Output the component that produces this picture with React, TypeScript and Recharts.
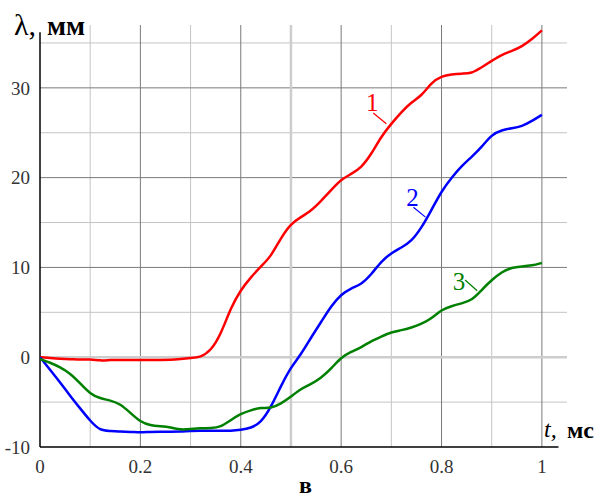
import React from 'react';
import { LineChart, Line, XAxis, YAxis, CartesianGrid, ReferenceLine, ReferenceDot } from 'recharts';

const times = [
  0, 0.02, 0.04, 0.06, 0.08, 0.1, 0.12, 0.14, 0.16, 0.18, 0.2, 0.22, 0.24, 0.26, 0.28, 0.3,
  0.32, 0.34, 0.36, 0.38, 0.4, 0.42, 0.44, 0.46, 0.48, 0.5, 0.52, 0.54, 0.56, 0.58, 0.6,
  0.62, 0.64, 0.66, 0.68, 0.7, 0.72, 0.74, 0.76, 0.78, 0.8, 0.82, 0.84, 0.86, 0.88, 0.9,
  0.92, 0.94, 0.96, 0.98, 1.0,
];

const curve1 = [
  0, -0.1, -0.2, -0.2, -0.3, -0.2, -0.4, -0.3, -0.3, -0.3, -0.3, -0.3, -0.3, -0.3, -0.2, -0.1,
  0.0, 0.7, 2.5, 5.5, 7.5, 8.9, 10.1, 11.2, 13.3, 14.9, 15.6, 16.3, 17.4, 18.6, 19.8,
  20.4, 21.1, 22.6, 24.6, 26.0, 27.3, 28.4, 29.1, 30.6, 31.3, 31.5, 31.6, 31.6, 32.3, 33.0,
  33.7, 34.1, 34.6, 35.4, 36.4,
];

const curve2 = [
  0, -1.4, -2.8, -4.3, -5.7, -7.1, -8.2, -8.2, -8.3, -8.3, -8.4, -8.3, -8.3, -8.3, -8.3, -8.2,
  -8.2, -8.2, -8.2, -8.2, -8.1, -7.9, -7.3, -5.6, -3.2, -1.1, 0.3, 2.2, 3.9, 5.7, 7.0,
  7.7, 8.1, 9.2, 10.7, 11.6, 12.2, 12.9, 14.4, 16.4, 18.5, 20.0, 21.3, 22.3, 23.4, 24.8,
  25.3, 25.5, 25.7, 26.3, 27.0,
];

const curve3 = [
  -0.2, -0.6, -1.1, -1.8, -2.9, -4.1, -4.6, -4.8, -5.2, -6.2, -7.2, -7.6, -7.7, -7.8, -8.1, -8.0,
  -7.9, -7.9, -7.8, -7.0, -6.3, -5.9, -5.6, -5.7, -5.2, -4.4, -3.5, -3.0, -2.3, -1.3, 0.0,
  0.6, 1.1, 1.8, 2.3, 2.8, 3.0, 3.3, 3.7, 4.3, 5.3, 5.7, 6.0, 6.3, 7.5, 8.6,
  9.5, 10.0, 10.1, 10.2, 10.5,
];

const xTicks = [0, 0.2, 0.4, 0.6, 0.8, 1];
const yTicks = [-10, 0, 10, 20, 30];
const xMinor = [0.1, 0.3, 0.7, 0.9];
const xMajor = [0.2, 0.4, 0.6, 0.8, 1];
const yMinor = [-5, 5, 15, 25, 35];
const yMajor = [10, 20, 30];

const data = times.map((t, i) => ({ t, c1: curve1[i], c2: curve2[i], c3: curve3[i] }));

const serif = "'Liberation Serif', 'DejaVu Serif', serif";

const abs = (left: number, top: number, fontSize: number, extra: React.CSSProperties = {}): React.CSSProperties => ({
  position: 'absolute', left, top, fontSize, lineHeight: `${fontSize}px`, whiteSpace: 'nowrap',
  color: '#000', fontFamily: serif, ...extra,
});

export default function App() {
  return (
    <div style={{ position: 'absolute', left: 0, top: 0, width: 601, height: 499, background: '#fff', fontFamily: serif, overflow: 'hidden' }}>
      <LineChart width={601} height={499} data={data} margin={{ top: 25, right: 34, bottom: 0, left: 0 }} style={{ fontFamily: serif }}>
        <CartesianGrid verticalValues={xMinor} horizontalValues={yMinor} stroke="#c4c4c4" strokeWidth={1} />
        <CartesianGrid verticalValues={xMajor} horizontalValues={yMajor} stroke="#7a7a7a" strokeWidth={1} />
        <CartesianGrid verticalValues={[0.5]} horizontalValues={[0]} stroke="#cdcdcd" strokeWidth={2.5} />
        <XAxis
          dataKey="t"
          type="number"
          domain={[0, 1.05]}
          ticks={xTicks}
          allowDataOverflow
          height={52}
          axisLine={false}
          tickLine={false}
          tickMargin={7}
          tick={{ fontSize: 19, fill: '#333', fontFamily: serif }}
          tickFormatter={(v: number) => String(v)}
        />
        <YAxis
          type="number"
          domain={[-10, 37]}
          ticks={yTicks}
          allowDataOverflow
          width={40}
          axisLine={false}
          tickLine={false}
          tickMargin={4}
          tick={{ fontSize: 19, fill: '#333', fontFamily: serif }}
        />
        <ReferenceLine segment={[{ x: 0, y: -10 }, { x: 0, y: 36.2 }]} stroke="#000" strokeWidth={1.5} />
        <ReferenceLine segment={[{ x: 0, y: -10 }, { x: 1.033, y: -10 }]} stroke="#000" strokeWidth={1.5} />
        <Line type="basis" dataKey="c1" stroke="#ff0000" strokeWidth={2.5} dot={false} isAnimationActive={false} />
        <Line type="basis" dataKey="c2" stroke="#0000ff" strokeWidth={2.5} dot={false} isAnimationActive={false} />
        <Line type="basis" dataKey="c3" stroke="#008000" strokeWidth={2.5} dot={false} isAnimationActive={false} />
        <ReferenceLine segment={[{ x: 0.664, y: 27.2 }, { x: 0.69, y: 26.0 }]} stroke="#ff0000" strokeWidth={1.2} />
        <ReferenceLine segment={[{ x: 0.744, y: 16.7 }, { x: 0.768, y: 15.6 }]} stroke="#0000ff" strokeWidth={1.2} />
        <ReferenceLine segment={[{ x: 0.847, y: 8.6 }, { x: 0.871, y: 7.4 }]} stroke="#008000" strokeWidth={1.2} />
        <ReferenceDot x={0.662} y={28.4} r={0} fill="none" stroke="none"
          label={{ value: '1', position: 'center', fill: '#ff0000', fontSize: 25, fontFamily: serif }} />
        <ReferenceDot x={0.742} y={17.8} r={0} fill="none" stroke="none"
          label={{ value: '2', position: 'center', fill: '#0000ff', fontSize: 25, fontFamily: serif }} />
        <ReferenceDot x={0.835} y={8.5} r={0} fill="none" stroke="none"
          label={{ value: '3', position: 'center', fill: '#008000', fontSize: 25, fontFamily: serif }} />
      </LineChart>
      <div style={abs(14, 10, 30)}>λ,</div>
      <div style={abs(47, 12, 28, { fontWeight: 'bold' })}>мм</div>
      <div style={abs(544, 417, 24, { fontStyle: 'italic' })}>t,</div>
      <div style={abs(567, 418, 24, { fontWeight: 'bold' })}>мс</div>
      <div style={abs(299, 473, 24, { fontWeight: 'bold' })}>в</div>
    </div>
  );
}
